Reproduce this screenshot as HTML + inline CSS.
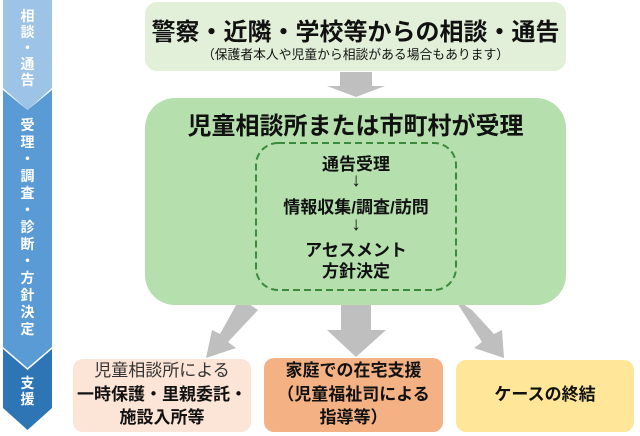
<!DOCTYPE html>
<html><head><meta charset="utf-8"><style>
body{margin:0;width:640px;height:436px;background:#fff;position:relative;overflow:hidden;font-family:"Liberation Sans","Noto Sans CJK JP",sans-serif;}
.a{position:absolute;}
.t{position:absolute;left:-20px;right:-20px;text-align:center;white-space:nowrap;color:#111;}
.v{position:absolute;left:3px;width:49px;text-align:center;color:#fff;font-weight:bold;font-size:14px;line-height:16px;}
</style></head><body>
<svg class="a" style="left:0;top:0" width="640" height="436">
<polygon points="3,0 52,0 52,88 27.5,110 3,88" fill="#9dc3e6"/>
<polygon points="3,90 27.5,110 52,90 52,347 27.5,368 3,347" fill="#5b9bd5"/>
<polygon points="3,349 27.5,370 52,349 52,408 27.5,430 3,408" fill="#2e75b6"/>
<polygon points="340,72 372,72 372,86 385,86 356,97 327,86 340,86" fill="#bfbfbf"/>
<polygon points="341,300 371,300 371,330 386,330 356,357 327,330 341,330" fill="#bfbfbf"/>
<polygon points="240,298 258,310 228,342 236,348 206,358 212,330 220,334" fill="#bfbfbf"/>
<polygon points="454,298 472,310 494,334 502,330 504,358 474,348 482,342" fill="#bfbfbf"/>
<rect x="145" y="2" width="421" height="69" rx="12" fill="#e2f0d9"/>
<rect x="145" y="98" width="421" height="207" rx="30" fill="#b5e0ad"/>
<rect x="256" y="143" width="200" height="147" rx="22" fill="none" stroke="#3a8a3a" stroke-width="2" stroke-dasharray="7,4"/>
<rect x="73" y="359" width="178" height="73" rx="10" fill="#fce4d6"/>
<rect x="264" y="358" width="179" height="74" rx="10" fill="#f4b183"/>
<rect x="456" y="360" width="178" height="72" rx="10" fill="#ffe699"/>
</svg>
<div class="v" style="top:8px">相<br>談<br>・<br>通<br>告</div>
<div class="v" style="top:117px;line-height:17px">受<br>理<br>・<br>調<br>査<br>・<br>診<br>断<br>・<br>方<br>針<br>決<br>定</div>
<div class="v" style="top:375px">支<br>援</div>
<div class="a" style="left:145px;width:421px;top:0">
<div class="t" style="top:12px;font-size:24px;font-weight:bold">警察・近隣・学校等からの相談・通告</div>
<div class="t" style="top:44px;font-size:12.8px">（保護者本人や児童から相談がある場合もあります）</div>
<div class="t" style="top:106px;font-size:24px;font-weight:bold">児童相談所または市町村が受理</div>
</div>
<div class="a" style="left:256px;width:200px;top:0;font-weight:bold;font-size:17px">
<div class="t" style="top:150px">通告受理</div>
<div class="t" style="top:170px;font-weight:normal;font-size:19px">↓</div>
<div class="t" style="top:193px">情報収集/調査/訪問</div>
<div class="t" style="top:214px;font-weight:normal;font-size:19px">↓</div>
<div class="t" style="top:236px">アセスメント</div>
<div class="t" style="top:257px">方針決定</div>
</div>
<div class="a" style="left:73px;width:178px;top:359px;font-size:17px;line-height:23.5px">
<div class="t" style="position:static;color:#333">児童相談所による</div>
<div class="t" style="position:static;font-weight:bold">一時保護・里親委託・</div>
<div class="t" style="position:static;font-weight:bold">施設入所等</div>
</div>
<div class="a" style="left:264px;width:179px;top:359px;font-size:17px;line-height:23.5px;font-weight:bold">
<div class="t" style="position:static">家庭での在宅支援</div>
<div class="t" style="position:static">（児童福祉司による</div>
<div class="t" style="position:static">指導等）</div>
</div>
<div class="a" style="left:456px;width:178px;top:383px;font-size:17px;line-height:23.5px;font-weight:bold">
<div class="t" style="position:static">ケースの終結</div>
</div>
</body></html>
